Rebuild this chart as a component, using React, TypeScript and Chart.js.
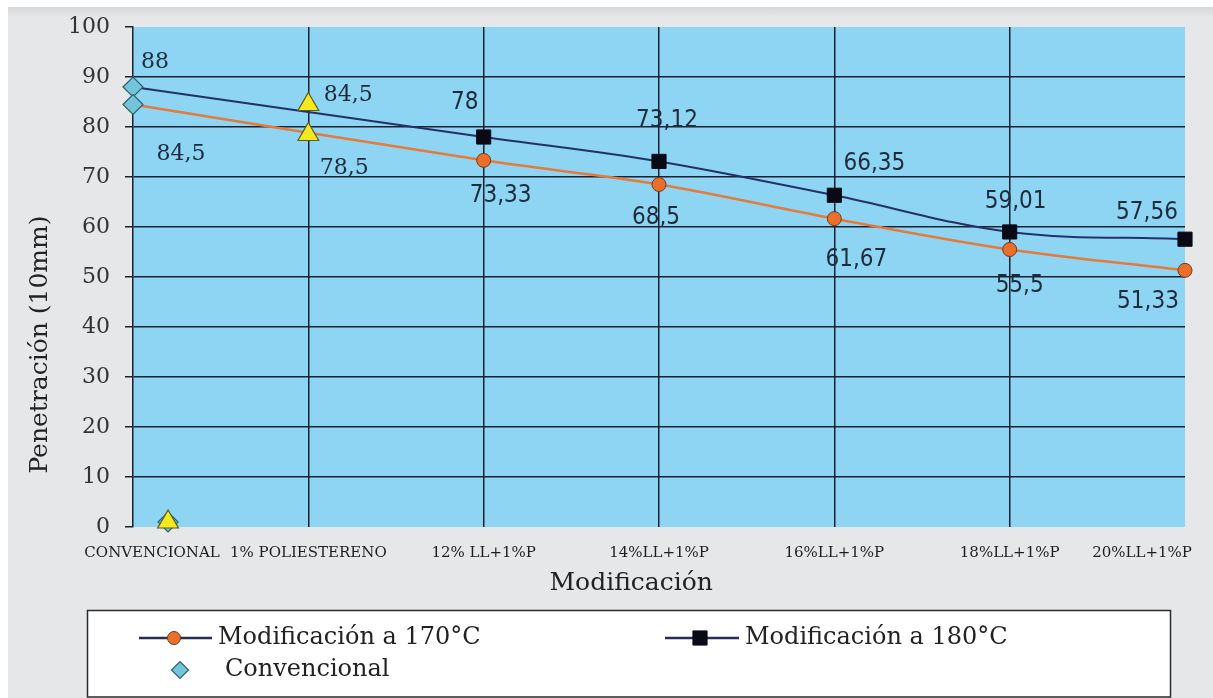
import { useEffect, useRef } from 'react';
import { Chart, registerables } from 'chart.js';
import { drawPoint } from 'chart.js/helpers';

Chart.register(...registerables);

// Categories along the x axis
const CATEGORIES = [
  'CONVENCIONAL',
  '1% POLIESTERENO',
  '12% LL+1%P',
  '14%LL+1%P',
  '16%LL+1%P',
  '18%LL+1%P',
  '20%LL+1%P',
];

// Penetración (10mm) values
const CONVENCIONAL = [88, 84.5];
const POLIESTIRENO = [84.5, 78.5];
const MOD_170 = [73.33, 68.5, 61.67, 55.5, 51.33];
const MOD_180 = [78, 73.12, 66.35, 59.01, 57.56];

// Stray markers sitting on the x axis next to CONVENCIONAL
const AXIS_MARK_X = [0.2];
const AXIS_MARK_Y = [1];

const Y_MIN = 0;
const Y_MAX = 100;
const Y_STEP = 10;

const SERIF = '"DejaVu Serif", serif';
const SANS = '"DejaVu Sans Condensed", "DejaVu Sans", sans-serif';
const GRID = '#1b2131';

const fmt = (v: number) => String(v).replace('.', ',');

// End labels are padded so they stay inside the plot edges
const xTickText = (i: number) => {
  const last = CATEGORIES.length - 1;
  if (i === 0) return ' '.repeat(8) + CATEGORIES[0];
  if (i === last) return CATEGORIES[last] + ' '.repeat(18);
  return CATEGORIES[i] ?? '';
};

const plotBackground = {
  id: 'plotBackground',
  beforeDraw(chart: any, _args: any, opts: any) {
    const { ctx, chartArea: a } = chart;
    ctx.save();
    ctx.fillStyle = opts.color;
    ctx.fillRect(a.left, a.top, a.right - a.left, a.bottom - a.top);
    ctx.restore();
  },
};

const pointLabels = {
  id: 'pointLabels',
  afterDatasetsDraw(chart: any, _args: any, opts: any) {
    const { ctx } = chart;
    chart.data.datasets.forEach((ds: any, di: number) => {
      const cfg = opts.sets?.[di];
      if (!cfg) return;
      const meta = chart.getDatasetMeta(di);
      ctx.save();
      ctx.font = cfg.font;
      ctx.fillStyle = opts.color;
      ctx.textAlign = 'center';
      ctx.textBaseline = 'middle';
      meta.data.forEach((el: any, i: number) => {
        const off = cfg.offsets[i];
        if (!off) return;
        ctx.fillText(fmt(ds.data[i].y), el.x + off[0], el.y + off[1]);
      });
      ctx.restore();
    });
  },
};

const boxLegend = {
  id: 'boxLegend',
  afterDraw(chart: any, _args: any, opts: any) {
    const { ctx } = chart;
    const b = opts.box;
    ctx.save();
    ctx.fillStyle = '#ffffff';
    ctx.fillRect(b.x, b.y, b.w, b.h);
    ctx.strokeStyle = '#2b2b2b';
    ctx.lineWidth = 1.5;
    ctx.strokeRect(b.x, b.y, b.w, b.h);
    opts.items.forEach((item: any) => {
      const ds = chart.data.datasets[item.dataset];
      if (item.line) {
        ctx.strokeStyle = item.line;
        ctx.lineWidth = 2.5;
        ctx.beginPath();
        ctx.moveTo(item.x, item.y);
        ctx.lineTo(item.x + item.lineLength, item.y);
        ctx.stroke();
      }
      ctx.fillStyle = ds.pointBackgroundColor;
      ctx.strokeStyle = ds.pointBorderColor;
      ctx.lineWidth = ds.pointBorderWidth;
      drawPoint(
        ctx,
        { pointStyle: ds.pointStyle, radius: item.radius, rotation: 0, borderWidth: ds.pointBorderWidth } as any,
        item.markerX,
        item.y
      );
      ctx.fillStyle = '#222222';
      ctx.font = opts.font;
      ctx.textAlign = 'left';
      ctx.textBaseline = 'middle';
      ctx.fillText(ds.label, item.textX, item.y);
    });
    ctx.restore();
  },
};

export default function App() {
  const canvasRef = useRef<HTMLCanvasElement | null>(null);

  useEffect(() => {
    if (!canvasRef.current) return;

    const triangles = [
      ...POLIESTIRENO.map((y) => ({ x: 1, y })),
      { x: AXIS_MARK_X[0], y: AXIS_MARK_Y[0] },
    ];
    const diamonds = [
      ...CONVENCIONAL.map((y) => ({ x: 0, y })),
      { x: AXIS_MARK_X[0], y: AXIS_MARK_Y[0] },
    ];
    const line180 = [{ x: 0, y: CONVENCIONAL[0] }, ...MOD_180.map((y, i) => ({ x: i + 2, y }))];
    const line170 = [{ x: 0, y: CONVENCIONAL[1] }, ...MOD_170.map((y, i) => ({ x: i + 2, y }))];

    const chart = new Chart(canvasRef.current, {
      type: 'line',
      data: {
        datasets: [
          {
            label: '1% POLIESTERENO',
            data: triangles,
            showLine: false,
            pointStyle: 'triangle',
            pointRadius: 12,
            pointHoverRadius: 12,
            pointBackgroundColor: '#f4e81e',
            pointBorderColor: '#5c5a22',
            pointBorderWidth: 1.2,
            clip: false,
          },
          {
            label: 'Convencional',
            data: diamonds,
            showLine: false,
            pointStyle: 'rectRot',
            pointRadius: 10,
            pointHoverRadius: 10,
            pointBackgroundColor: '#74c5da',
            pointBorderColor: '#2e5f6f',
            pointBorderWidth: 1.2,
            clip: false,
          },
          {
            label: 'Modificación a 180°C',
            data: line180,
            borderColor: '#243067',
            borderWidth: 2,
            tension: 0.35,
            pointStyle: 'rect',
            pointRadius: (c: any) => (c.dataIndex === 0 ? 0 : 10),
            pointHoverRadius: (c: any) => (c.dataIndex === 0 ? 0 : 10),
            pointBackgroundColor: '#0a0a16',
            pointBorderColor: '#0a0a16',
            pointBorderWidth: 1,
            clip: false,
          },
          {
            label: 'Modificación a 170°C',
            data: line170,
            borderColor: '#e57a3d',
            borderWidth: 2.5,
            tension: 0.35,
            pointStyle: 'circle',
            pointRadius: (c: any) => (c.dataIndex === 0 ? 0 : 7),
            pointHoverRadius: (c: any) => (c.dataIndex === 0 ? 0 : 7),
            pointBackgroundColor: '#eb6f2b',
            pointBorderColor: '#6b3b1f',
            pointBorderWidth: 1,
            clip: false,
          },
        ],
      },
      options: {
        animation: false,
        responsive: true,
        maintainAspectRatio: false,
        layout: { padding: { top: 20, right: 28, bottom: 91, left: 0 } },
        plugins: {
          legend: { display: false },
          tooltip: { enabled: false },
          plotBackground: { color: '#8dd5f3' },
          pointLabels: {
            color: '#1d2b3c',
            sets: {
              0: { font: `22px ${SERIF}`, offsets: [[40, -9], [36, 34], null] },
              1: { font: `22px ${SERIF}`, offsets: [[22, -25], [48, 50], null] },
              2: {
                font: `24px ${SANS}`,
                offsets: [null, [-19, -34], [8, -41], [40, -31], [6, -30], [-38, -26]],
              },
              3: {
                font: `24px ${SANS}`,
                offsets: [null, [17, 35], [-3, 33], [22, 41], [10, 36], [-37, 31]],
              },
            },
          },
          boxLegend: {
            font: `24px ${SERIF}`,
            box: { x: 79.5, y: 603.5, w: 1083, h: 86.5 },
            items: [
              { dataset: 3, line: '#2b2b4a', x: 131, lineLength: 73, markerX: 166, radius: 6.5, textX: 210, y: 631 },
              { dataset: 2, line: '#2b2b5a', x: 657, lineLength: 74, markerX: 692, radius: 10, textX: 737, y: 631 },
              { dataset: 1, line: null, x: 0, lineLength: 0, markerX: 172, radius: 8.5, textX: 217, y: 663 },
            ],
          },
        } as any,
        scales: {
          x: {
            type: 'linear',
            min: 0,
            max: CATEGORIES.length - 1,
            position: 'bottom',
            afterFit: (s: any) => {
              s.height = 80;
              s.paddingLeft = 0;
              s.paddingRight = 0;
            },
            border: { display: false },
            grid: {
              color: (c: any) =>
                c.tick && c.tick.value > 0 && c.tick.value < CATEGORIES.length - 1 ? GRID : 'transparent',
              lineWidth: 1.5,
              drawTicks: false,
            },
            ticks: {
              stepSize: 1,
              autoSkip: false,
              maxRotation: 0,
              minRotation: 0,
              padding: 17,
              color: '#1e1e1e',
              font: { family: SERIF, size: 15 },
              callback: (v: any) => xTickText(Math.round(Number(v))),
            },
            title: {
              display: true,
              text: 'Modificación' + ' '.repeat(7),
              color: '#222222',
              font: { family: SERIF, size: 25 },
              padding: { top: 0, bottom: 9 },
            },
          },
          y: {
            min: Y_MIN,
            max: Y_MAX,
            afterFit: (s: any) => {
              s.width = 125;
              s.paddingTop = 0;
              s.paddingBottom = 0;
            },
            border: { display: true, color: GRID, width: 1.5 },
            grid: {
              color: (c: any) => (c.tick && c.tick.value > Y_MIN && c.tick.value < Y_MAX ? GRID : 'transparent'),
              lineWidth: 1.5,
              drawTicks: true,
              tickLength: 8,
              tickColor: GRID,
            },
            ticks: {
              stepSize: Y_STEP,
              padding: 15,
              color: '#333333',
              font: { family: SERIF, size: 22 },
            },
            title: {
              display: true,
              text: 'Penetración (10mm)' + ' '.repeat(17),
              color: '#222222',
              font: { family: SERIF, size: 25 },
              padding: { top: 17, bottom: 0 },
            },
          },
        },
      },
      plugins: [plotBackground, pointLabels, boxLegend],
    } as any);

    return () => chart.destroy();
  }, []);

  return (
    <div
      style={{
        position: 'fixed',
        left: 8,
        top: 7,
        width: 1205,
        height: 691,
        background: 'linear-gradient(to bottom, #d6d7d9 0px, #e6e7e8 10px, #e6e7e8 100%)',
      }}
    >
      <canvas ref={canvasRef} />
    </div>
  );
}
